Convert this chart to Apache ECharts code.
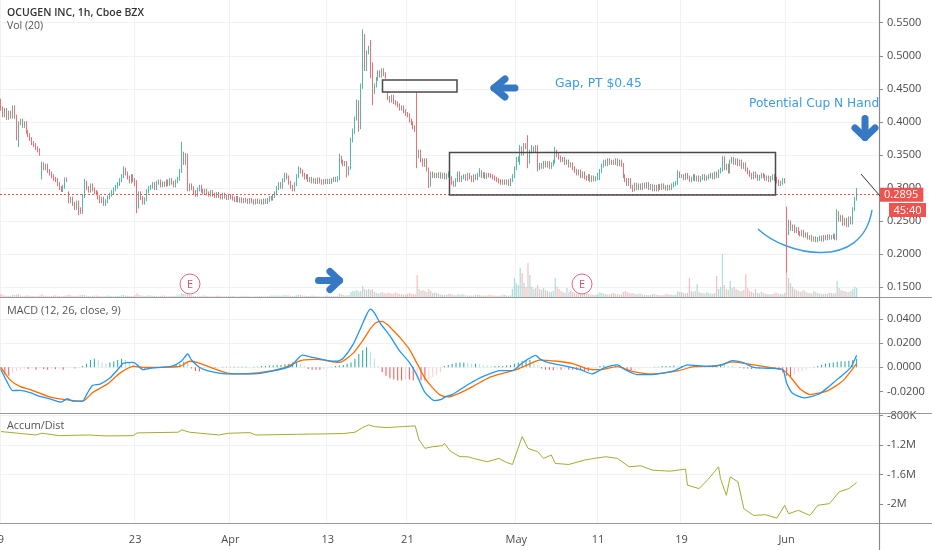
<!DOCTYPE html>
<html><head><meta charset="utf-8">
<script src="https://cdn.jsdelivr.net/npm/echarts@6/dist/echarts.min.js"></script>
<style>html,body{margin:0;padding:0;background:#fff}#c{width:932px;height:550px}</style>
</head><body><div id="c"></div>
<script>
// ---- hourly OHLC (one row per trading day, 7 bars each) ----
const opens = [
.432,.420,.410,.418,.406,.414,.408,
.422,.408,.375,.398,.402,.394,.398,
.385,.380,.374,.368,.365,.360,.357,
.316,.336,.330,.334,.326,.322,.318,
.314,.312,.306,.300,.297,.302,.313,
.292,.280,.284,.276,.270,.278,.268,
.264,.288,.308,.300,.296,.304,.298,
.294,.292,.286,.280,.284,.276,.280,
.286,.290,.294,.298,.302,.306,.312,
.318,.328,.322,.316,.310,.318,.312,
.306,.272,.292,.285,.278,.283,.295,
.300,.302,.306,.300,.308,.310,.304,
.307,.305,.310,.306,.312,.308,.304,
.310,.314,.326,.352,.338,.350,.298,
.304,.300,.294,.290,.298,.302,.296,
.293,.296,.292,.290,.294,.290,.288,
.291,.288,.286,.290,.287,.285,.288,
.286,.284,.282,.285,.281,.283,.280,
.282,.281,.279,.282,.280,.278,.281,
.279,.280,.278,.281,.279,.282,.285,
.284,.288,.292,.300,.306,.302,.312,
.320,.316,.308,.302,.298,.306,.318,
.328,.325,.320,.316,.318,.312,.314,
.310,.312,.309,.313,.310,.308,.311,
.309,.311,.309,.312,.314,.312,.315,
.346,.340,.336,.338,.322,.330,.372,
.385,.405,.430,.392,.455,.530,.480,
.505,.512,.470,.445,.455,.465,.475,
.470,.478,.472,.445,.436,.432,.438,
.430,.428,.425,.420,.422,.416,.412,
.410,.402,.398,.392,.388,.348,.355,
.342,.335,.342,.328,.305,.322,.318,
.320,.318,.321,.317,.320,.316,.319,
.322,.315,.308,.305,.312,.322,.312,
.316,.318,.314,.320,.316,.312,.318,
.315,.320,.324,.318,.321,.317,.320,
.319,.318,.316,.314,.312,.310,.308,
.310,.308,.310,.306,.312,.318,.330,
.342,.345,.360,.352,.365,.362,.340,
.355,.360,.356,.362,.330,.335,.332,
.338,.334,.338,.332,.336,.340,.355,
.350,.346,.342,.344,.338,.340,.334,
.336,.330,.326,.322,.325,.318,.322,
.316,.314,.318,.312,.316,.313,.315,
.320,.326,.334,.340,.336,.342,.338,
.340,.338,.342,.336,.340,.335,.318,
.312,.306,.312,.302,.298,.305,.300,
.304,.300,.305,.302,.306,.300,.303,
.298,.302,.298,.303,.300,.304,.301,
.299,.302,.300,.304,.306,.308,.322,
.318,.318,.315,.320,.316,.312,.314,
.318,.313,.316,.312,.315,.318,.314,
.316,.318,.320,.316,.322,.318,.325,
.328,.345,.330,.334,.325,.340,.344,
.338,.342,.336,.340,.332,.336,.328,
.324,.320,.316,.322,.318,.314,.317,
.320,.318,.314,.316,.312,.315,.318,
.314,.310,.306,.308,.312,.270,.232,
.248,.238,.242,.235,.238,.232,.230,
.234,.228,.230,.225,.226,.222,.224,
.221,.223,.225,.222,.226,.224,.227,
.225,.226,.228,.224,.262,.252,.256,
.246,.252,.244,.254,.248,.268,.284];
const highs = [
.435,.423,.421,.421,.417,.417,.425,
.425,.411,.401,.405,.405,.401,.401,
.388,.383,.377,.371,.368,.363,.360,
.340,.339,.337,.337,.329,.325,.321,
.317,.315,.309,.303,.305,.316,.316,
.295,.287,.287,.279,.281,.281,.271,
.291,.314,.311,.303,.307,.307,.301,
.297,.295,.289,.287,.287,.283,.289,
.293,.297,.301,.305,.309,.315,.321,
.333,.331,.325,.319,.321,.321,.315,
.312,.295,.295,.288,.286,.298,.303,
.305,.309,.309,.311,.313,.313,.310,
.310,.313,.313,.315,.315,.311,.313,
.317,.329,.370,.355,.353,.352,.307,
.307,.303,.297,.301,.305,.305,.299,
.299,.299,.295,.297,.297,.293,.294,
.294,.291,.293,.293,.290,.291,.291,
.289,.287,.288,.288,.286,.286,.285,
.285,.284,.285,.285,.283,.284,.284,
.283,.283,.284,.284,.285,.288,.288,
.291,.295,.303,.309,.309,.315,.323,
.323,.319,.311,.305,.309,.321,.333,
.331,.328,.323,.321,.321,.317,.317,
.315,.315,.316,.316,.313,.314,.314,
.314,.314,.315,.317,.317,.318,.352,
.349,.343,.341,.341,.333,.376,.390,
.408,.434,.433,.458,.540,.533,.508,
.515,.524,.490,.458,.468,.478,.478,
.481,.481,.475,.445,.439,.441,.441,
.433,.431,.428,.425,.425,.419,.415,
.413,.405,.401,.395,.445,.358,.358,
.345,.345,.345,.331,.325,.325,.323,
.323,.324,.324,.323,.323,.322,.325,
.325,.318,.311,.315,.325,.325,.319,
.321,.321,.323,.323,.319,.321,.321,
.323,.330,.327,.324,.324,.323,.323,
.322,.321,.319,.317,.315,.313,.313,
.313,.313,.313,.315,.321,.333,.347,
.348,.365,.363,.368,.368,.380,.358,
.365,.363,.365,.365,.338,.338,.341,
.341,.341,.341,.339,.343,.362,.358,
.353,.349,.347,.347,.343,.343,.339,
.339,.333,.329,.328,.328,.325,.325,
.319,.321,.321,.319,.319,.318,.323,
.329,.337,.343,.343,.345,.345,.343,
.343,.345,.345,.343,.343,.338,.321,
.315,.315,.315,.305,.308,.308,.307,
.307,.308,.308,.309,.309,.306,.306,
.305,.305,.306,.306,.307,.307,.304,
.305,.305,.307,.309,.311,.327,.325,
.321,.321,.323,.323,.319,.317,.321,
.321,.319,.319,.318,.321,.321,.319,
.321,.323,.323,.325,.325,.328,.331,
.348,.348,.337,.337,.343,.347,.347,
.345,.345,.343,.343,.339,.339,.331,
.327,.323,.325,.325,.321,.320,.323,
.323,.321,.319,.319,.318,.321,.321,
.317,.313,.311,.315,.315,.272,.252,
.251,.245,.245,.241,.241,.235,.237,
.237,.233,.233,.229,.229,.227,.227,
.226,.228,.228,.229,.229,.230,.230,
.229,.231,.231,.268,.265,.259,.259,
.255,.255,.257,.257,.271,.287,.300];
const lows = [
.417,.407,.407,.403,.403,.405,.405,
.405,.372,.362,.395,.391,.391,.382,
.377,.371,.365,.362,.357,.354,.349,
.313,.327,.327,.323,.319,.315,.311,
.309,.303,.297,.294,.294,.299,.309,
.277,.277,.273,.267,.267,.259,.261,
.261,.285,.297,.293,.293,.295,.291,
.289,.283,.277,.277,.273,.273,.277,
.283,.287,.291,.295,.299,.303,.309,
.315,.319,.313,.307,.307,.309,.303,
.262,.269,.282,.275,.275,.280,.292,
.297,.299,.297,.297,.305,.301,.301,
.302,.302,.303,.303,.305,.301,.301,
.307,.311,.323,.335,.335,.295,.295,
.297,.291,.287,.287,.295,.293,.290,
.290,.289,.287,.287,.287,.285,.285,
.285,.283,.283,.284,.282,.282,.283,
.281,.279,.279,.278,.278,.277,.277,
.278,.276,.276,.277,.275,.275,.276,
.276,.275,.275,.276,.276,.279,.281,
.281,.285,.289,.297,.299,.299,.309,
.313,.305,.299,.295,.295,.303,.315,
.322,.317,.313,.313,.309,.309,.307,
.307,.306,.306,.307,.305,.305,.306,
.306,.306,.306,.309,.309,.309,.312,
.337,.333,.333,.316,.319,.328,.369,
.382,.402,.385,.389,.450,.477,.477,
.502,.466,.425,.442,.452,.462,.467,
.467,.469,.465,.433,.429,.429,.427,
.425,.422,.417,.417,.413,.409,.407,
.399,.395,.389,.385,.330,.345,.339,
.332,.332,.325,.300,.302,.315,.315,
.315,.315,.314,.314,.313,.313,.316,
.312,.305,.302,.302,.309,.309,.309,
.313,.311,.311,.313,.309,.309,.312,
.312,.317,.315,.315,.314,.314,.316,
.315,.313,.311,.309,.307,.305,.305,
.305,.305,.303,.303,.309,.315,.327,
.339,.335,.349,.349,.359,.330,.337,
.352,.353,.353,.325,.327,.329,.329,
.331,.331,.329,.329,.333,.337,.347,
.343,.339,.339,.335,.335,.331,.331,
.327,.323,.319,.319,.315,.315,.313,
.311,.311,.309,.309,.310,.310,.312,
.312,.323,.331,.333,.333,.335,.335,
.335,.335,.333,.333,.332,.315,.309,
.303,.303,.299,.294,.295,.297,.297,
.297,.297,.299,.299,.297,.297,.295,
.295,.295,.295,.297,.297,.298,.296,
.296,.297,.297,.301,.303,.305,.315,
.315,.312,.312,.313,.309,.309,.311,
.310,.310,.309,.309,.312,.311,.311,
.313,.315,.313,.313,.315,.315,.322,
.325,.327,.327,.322,.322,.337,.335,
.335,.333,.333,.329,.329,.325,.321,
.317,.313,.313,.315,.311,.311,.314,
.315,.311,.311,.309,.309,.312,.311,
.307,.303,.303,.305,.307,.172,.229,
.235,.235,.232,.232,.229,.227,.227,
.225,.225,.222,.222,.219,.219,.218,
.218,.220,.219,.219,.221,.221,.222,
.222,.223,.221,.221,.249,.249,.243,
.243,.241,.241,.245,.245,.265,.281];
const closes = [
.420,.410,.418,.406,.414,.408,.422,
.408,.375,.398,.402,.394,.398,.385,
.380,.374,.368,.365,.360,.357,.352,
.336,.330,.334,.326,.322,.318,.314,
.312,.306,.300,.297,.302,.313,.312,
.280,.284,.276,.270,.278,.268,.264,
.288,.308,.300,.296,.304,.298,.294,
.292,.286,.280,.284,.276,.280,.286,
.290,.294,.298,.302,.306,.312,.318,
.328,.322,.316,.310,.318,.312,.306,
.272,.292,.285,.278,.283,.295,.300,
.302,.306,.300,.308,.310,.304,.307,
.305,.310,.306,.312,.308,.304,.310,
.314,.326,.352,.338,.350,.298,.304,
.300,.294,.290,.298,.302,.296,.293,
.296,.292,.290,.294,.290,.288,.291,
.288,.286,.290,.287,.285,.288,.286,
.284,.282,.285,.281,.283,.280,.282,
.281,.279,.282,.280,.278,.281,.279,
.280,.278,.281,.279,.282,.285,.284,
.288,.292,.300,.306,.302,.312,.320,
.316,.308,.302,.298,.306,.318,.328,
.325,.320,.316,.318,.312,.314,.310,
.312,.309,.313,.310,.308,.311,.309,
.311,.309,.312,.314,.312,.315,.346,
.340,.336,.338,.322,.330,.372,.385,
.405,.430,.392,.455,.530,.480,.505,
.512,.470,.445,.455,.465,.475,.470,
.478,.472,.468,.436,.432,.438,.430,
.428,.425,.420,.422,.416,.412,.410,
.402,.398,.392,.388,.348,.355,.342,
.335,.342,.328,.305,.322,.318,.320,
.318,.321,.317,.320,.316,.319,.322,
.315,.308,.305,.312,.322,.312,.316,
.318,.314,.320,.316,.312,.318,.315,
.320,.324,.318,.321,.317,.320,.319,
.318,.316,.314,.312,.310,.308,.310,
.308,.310,.306,.312,.318,.330,.342,
.345,.360,.352,.365,.362,.340,.355,
.360,.356,.362,.330,.335,.332,.338,
.334,.338,.332,.336,.340,.355,.350,
.346,.342,.344,.338,.340,.334,.336,
.330,.326,.322,.325,.318,.322,.316,
.314,.318,.312,.316,.313,.315,.320,
.326,.334,.340,.336,.342,.338,.340,
.338,.342,.336,.340,.335,.318,.312,
.306,.312,.302,.298,.305,.300,.304,
.300,.305,.302,.306,.300,.303,.298,
.302,.298,.303,.300,.304,.301,.299,
.302,.300,.304,.306,.308,.322,.318,
.318,.315,.320,.316,.312,.314,.318,
.313,.316,.312,.315,.318,.314,.316,
.318,.320,.316,.322,.318,.325,.328,
.345,.330,.334,.325,.340,.344,.338,
.342,.336,.340,.332,.336,.328,.324,
.320,.316,.322,.318,.314,.317,.320,
.318,.314,.316,.312,.315,.318,.314,
.310,.306,.308,.312,.310,.232,.248,
.238,.242,.235,.238,.232,.230,.234,
.228,.230,.225,.226,.222,.224,.221,
.223,.225,.222,.226,.224,.227,.225,
.226,.228,.224,.262,.252,.256,.246,
.252,.244,.254,.248,.268,.284,.2895];
// volume, thousands of shares
const volumes = [
150,90,70,60,50,60,110, 100,120,140,70,60,50,90, 80,60,50,50,40,50,80,
140,80,60,50,40,50,70, 80,60,50,40,50,60,90, 120,70,60,50,60,70,90,
110,90,60,50,40,50,80, 70,60,50,40,40,50,80, 60,50,40,50,50,60,90,
100,70,60,50,40,50,90, 200,100,70,60,50,60,90, 80,60,50,40,40,50,70,
70,50,40,40,50,50,80, 80,90,200,150,120,140,100, 90,60,50,40,40,50,70,
60,50,40,40,40,50,60, 60,40,40,30,40,40,60, 50,40,30,30,40,40,60,
50,40,30,30,30,40,50, 50,40,30,40,40,50,70, 80,60,70,80,60,70,100,
90,70,60,50,60,80,120, 100,70,60,50,50,50,70, 60,50,40,40,40,40,60,
60,50,40,40,40,50,180, 150,100,80,90,100,250,300, 300,350,280,300,550,400,350,
400,350,380,250,200,180,200, 250,200,180,220,200,160,180, 220,180,150,140,130,120,160,
200,160,150,140,1100,400,300, 350,300,250,400,300,200,220, 200,150,120,100,100,110,150,
160,120,100,90,150,110,140, 120,90,80,70,70,80,120, 110,100,80,70,70,70,110,
100,80,70,60,60,70,110, 100,70,60,80,400,950,700, 600,1450,1200,700,500,1700,1100,
500,400,450,600,400,350,450, 350,300,250,250,300,950,500, 400,300,250,200,450,250,300,
250,200,180,160,150,150,200, 180,150,120,110,100,110,160, 250,200,180,150,130,120,180,
200,160,150,130,120,250,300, 250,200,180,200,150,130,180, 160,120,100,100,90,100,150,
150,110,100,90,90,100,160, 140,110,100,100,120,300,250, 250,200,180,200,950,300,250,
300,650,250,200,200,180,250, 200,180,150,200,1050,400,500, 2150,600,400,350,800,450,500,
400,350,300,300,350,1150,450, 300,250,200,400,200,180,250, 200,180,150,150,140,150,220,
200,160,150,150,200,1200,950, 700,500,400,350,300,250,300, 350,250,200,200,180,300,250,
200,180,160,150,150,160,220, 200,180,200,800,450,350,300, 300,250,250,300,400,500,450];
const lastPrice = 0.2895;

// ---- x-axis date ticks (bar index -> label) ----
const tickIdx  = [0, 69, 118, 168, 209, 265, 307, 350, 404];
const tickText = ['9','23','Apr','13','21','May','11','19','Jun'];

// ---- MACD (12, 26, close, 9): [bar index, value] ----
const macdPts = [[0,-0.002],[3,-0.0116],[6,-0.0193],[10,-0.019],[15,-0.021],[20,-0.024],[25,-0.026],[31,-0.0287],[34,-0.026],[37,-0.028],[42,-0.028],[44,-0.0226],[47,-0.015],[51,-0.0139],[56,-0.0088],[60,-0.002],[63,0.0035],[68,0.004],[70,0.002],[73,-0.002],[76,-0.001],[82,0],[88,0.001],[93,0.0055],[96,0.011],[98,0.006],[102,0],[106,-0.0027],[113,-0.005],[119,-0.0055],[130,-0.0055],[140,-0.003],[149,0.001],[155,0.010],[159,0.0087],[168,0.0055],[173,0.005],[176,0.0075],[181,0.0187],[185,0.0325],[188,0.0435],[190,0.048],[192,0.045],[195,0.0366],[200,0.026],[205,0.0135],[210,0.004],[214,-0.007],[218,-0.0207],[223,-0.0275],[226,-0.0268],[229,-0.024],[232,-0.0226],[240,-0.0144],[248,-0.0075],[257,-0.0028],[263,-0.0028],[268,0.0036],[275,0.0099],[277,0.007],[282,0.0036],[291,0.0008],[298,-0.002],[304,-0.0055],[310,-0.0006],[317,0.002],[321,-0.002],[327,-0.006],[335,-0.006],[346,-0.003],[353,0.002],[363,0.0008],[371,0.002],[373,0.0036],[376,0.0055],[382,0.0036],[387,0],[395,-0.0008],[402,-0.002],[404,-0.013],[407,-0.0215],[413,-0.0253],[420,-0.0225],[425,-0.017],[430,-0.010],[431,-0.0089],[437,0],[440,0.0099]];
const signalPts = [[0,0],[5,-0.011],[10,-0.016],[16,-0.019],[25,-0.0245],[34,-0.027],[42,-0.028],[47,-0.021],[55,-0.0135],[61,-0.005],[68,0.0007],[73,0],[82,0],[92,0.0007],[97,0.005],[102,0.0035],[111,-0.002],[119,-0.0055],[133,-0.0045],[145,-0.0007],[155,0.006],[163,0.0065],[174,0.004],[181,0.0115],[186,0.022],[188,0.027],[190,0.032],[193,0.037],[196,0.038],[199,0.035],[202,0.030],[205,0.025],[210,0.015],[214,0.003],[218,-0.009],[222,-0.017],[226,-0.023],[230,-0.0245],[235,-0.022],[243,-0.0155],[251,-0.0085],[258,-0.005],[265,-0.002],[270,0.0015],[277,0.006],[286,0.005],[294,0.003],[301,-0.001],[308,-0.002],[317,0.0005],[325,-0.0035],[335,-0.0055],[348,-0.003],[356,0.0005],[368,0.001],[376,0.0045],[387,0.002],[397,-0.0005],[402,-0.002],[406,-0.008],[411,-0.018],[416,-0.0225],[425,-0.0195],[433,-0.011],[440,0.003]];
// histogram, one value every 2 bars starting at bar 0
const histStep = 2;
const histVals = [
-.002,-.006,-.007,-.005,-.003,-.002,-.001,-.0015,-.001,-.002,
-.001,-.0015,-.002,-.001,-.0015,-.001,-.002,-.001,-.0005,-.001,
-.0005,.001,.003,.006,.007,.006,.004,.003,.004,.005,
.006,.007,.006,.004,.003,.001,-.001,-.0015,-.001,-.0005,
-.0005,0,.0005,.0005,.001,.002,.003,.0045,.004,-.001,
-.003,-.0035,-.002,-.001,-.0005,-.0005,0,.0005,.0005,.0005,
.0005,.0005,.0005,.0005,0,.0005,.0005,.001,.001,.0015,
.0015,.002,.002,.0025,.003,.004,.004,.003,.001,-.0015,
-.002,-.002,-.002,-.0015,-.001,-.0005,.001,.0015,.002,.003,
.004,.007,.011,.014,.0165,.013,.007,.001,-.004,-.007,
-.009,-.010,-.011,-.011,-.010,-.010,-.011,-.010,-.011,-.011,
-.010,-.008,-.006,-.004,.001,.002,.003,.0035,.004,.004,
.0035,.003,.003,.0025,.002,.0015,.001,.001,.001,.001,
.0015,.002,.003,.004,.005,.006,.006,.005,.002,-.001,
-.002,-.002,-.0025,-.002,-.002,-.0015,-.002,-.002,-.002,-.0025,
-.003,-.0035,-.003,-.001,.001,.0015,.001,.0005,.001,0,
-.001,-.002,-.0025,-.002,-.0015,-.001,-.0005,0,.0005,.0005,
.001,.001,.001,.0015,.001,.001,.0005,.0005,.0005,.0005,
.001,.001,.0015,.0015,.002,.0025,.002,.0015,.001,.0005,
-.0005,-.001,-.001,-.0015,-.001,-.001,-.0005,-.001,-.001,-.0015,
-.002,-.004,-.007,-.008,-.006,-.004,-.003,-.002,-.001,.0005,
.001,.002,.003,.0035,.004,.0045,.005,.005,.0055,.006,
.007];

// ---- Accumulation / Distribution (millions), [bar index, value] ----
const adlPts = [[0,-1.018],[9,-1.041],[18,-1.064],[21,-1.040],[30,-1.073],[45,-1.064],[54,-1.077],[68,-1.073],[70,-1.036],[91,-1.027],[93,-0.995],[97,-1.027],[112,-1.064],[117,-1.041],[128,-1.032],[131,-1.064],[152,-1.055],[176,-1.045],[182,-1.027],[186,-0.964],[189,-0.927],[192,-0.950],[198,-0.964],[207,-0.950],[213,-0.941],[215,-1.132],[218,-1.245],[222,-1.223],[227,-1.209],[228,-1.177],[231,-1.282],[236,-1.359],[240,-1.359],[243,-1.382],[250,-1.427],[256,-1.382],[260,-1.436],[263,-1.464],[268,-1.086],[271,-1.245],[276,-1.291],[279,-1.382],[283,-1.336],[285,-1.450],[292,-1.464],[300,-1.405],[305,-1.382],[311,-1.359],[317,-1.382],[323,-1.495],[329,-1.482],[335,-1.541],[344,-1.555],[352,-1.527],[353,-1.745],[359,-1.791],[364,-1.655],[369,-1.495],[370,-1.655],[373,-1.882],[375,-1.632],[379,-1.700],[382,-2.064],[387,-2.155],[393,-2.145],[399,-2.191],[403,-2.018],[405,-2.132],[410,-2.086],[416,-2.155],[420,-2.018],[426,-1.995],[431,-1.836],[436,-1.791],[440,-1.709]];

// ---------------- chart ----------------
const TOTAL_SLOTS = 452;               // bars plus empty right margin
const cats = [];
for (let i = 0; i < TOTAL_SLOTS; i++) cats.push(i);
const tickMap = {};
tickIdx.forEach((k, j) => { tickMap[k] = tickText[j]; });

const UP = '#55b8a4', DOWN = '#ef7073';
const GRID = '#eef1f5', TXT = '#4a4a4a', FONT = 'Open Sans';
const candleData = closes.map((c, i) => [opens[i], c, lows[i], highs[i]]);
const volData = volumes.map((v, i) => ({
  value: v,
  itemStyle: { color: closes[i] >= opens[i] ? 'rgba(38,166,154,0.38)' : 'rgba(239,83,80,0.38)' }
}));
const histData = histVals.map((v, k) => {
  const prev = k > 0 ? histVals[k - 1] : 0;
  let col;
  if (v >= 0) col = v >= prev ? '#26a69a' : '#b2dfdb';
  else col = v <= prev ? '#ef5350' : '#ffcdd2';
  return { value: [k * histStep, v], itemStyle: { color: col } };
});

const hiddenX = gi => ({ type: 'category', gridIndex: gi, data: cats, boundaryGap: true, show: false });
const rightAxisBase = {
  position: 'right',
  axisLine: { show: false },
  axisTick: { show: true, length: 4, lineStyle: { color: '#8a8a8a' } },
  axisLabel: { color: TXT, fontSize: 11, margin: 8, fontFamily: FONT }
};
const T = 'rgba(0,0,0,0)';

const chart = echarts.init(document.getElementById('c'), null, { renderer: 'canvas', width: 932, height: 550 });
const option = {
  animation: false,
  backgroundColor: '#ffffff',
  textStyle: { fontFamily: FONT },
  grid: [
    { left: 0, right: 53, top: -10.4, height: 297.7, containLabel: false, outerBoundsMode: 'none' },
    { left: 0, right: 53, top: 237, height: 60, containLabel: false, outerBoundsMode: 'none' },
    { left: 0, right: 53, top: 294.7, height: 121, containLabel: false, outerBoundsMode: 'none' },
    { left: 0, right: 53, top: 415.5, height: 118, containLabel: false, outerBoundsMode: 'none' },
    { left: 0, right: 53, top: 0, height: 523, containLabel: false, outerBoundsMode: 'none' }
  ],
  xAxis: [
    hiddenX(0), hiddenX(1), hiddenX(2), hiddenX(3),
    {
      type: 'category', gridIndex: 4, data: cats, boundaryGap: true, position: 'bottom',
      axisLine: { show: false }, axisTick: { show: false },
      axisLabel: {
        interval: (i) => tickMap.hasOwnProperty(i),
        formatter: (v) => tickMap[v] || '',
        color: TXT, fontSize: 11, margin: 11, fontFamily: FONT
      },
      splitLine: { show: true, interval: (i) => tickMap.hasOwnProperty(i), lineStyle: { color: GRID, width: 1 } }
    }
  ],
  yAxis: [
    Object.assign({}, rightAxisBase, {
      type: 'value', gridIndex: 0, min: 0.15, max: 0.60, interval: 0.05,
      axisLabel: Object.assign({}, rightAxisBase.axisLabel, { formatter: v => v.toFixed(4) }),
      splitLine: { show: true, lineStyle: { color: GRID } }
    }),
    { type: 'value', gridIndex: 1, min: 0, max: 3000, show: false },
    Object.assign({}, rightAxisBase, {
      type: 'value', gridIndex: 2, min: -0.04, max: 0.06, interval: 0.02,
      axisLabel: Object.assign({}, rightAxisBase.axisLabel, {
        showMinLabel: false, showMaxLabel: false,
        formatter: v => (Math.abs(v) < 1e-9 ? 0 : v).toFixed(4)
      }),
      axisTick: { show: true, length: 4, lineStyle: { color: '#8a8a8a' }, customValues: [-0.02, 0, 0.02, 0.04] },
      splitLine: { show: true, lineStyle: { color: [T, GRID, GRID, GRID, GRID, T] } }
    }),
    Object.assign({}, rightAxisBase, {
      type: 'value', gridIndex: 3, min: -2.4, max: -0.8, interval: 0.4,
      axisLabel: Object.assign({}, rightAxisBase.axisLabel, {
        showMinLabel: false,
        formatter: v => { const r = Math.round(v * 10) / 10; return r > -1 ? Math.round(r * 1000) + 'K' : r + 'M'; }
      }),
      axisTick: { show: true, length: 4, lineStyle: { color: '#8a8a8a' }, customValues: [-2.0, -1.6, -1.2, -0.8] },
      splitLine: { show: true, lineStyle: { color: [T, GRID, GRID, GRID, T] } }
    }),
    { type: 'value', gridIndex: 4, min: 0, max: 1, show: false }
  ],
  series: [
    {
      type: 'bar', name: 'Vol', xAxisIndex: 1, yAxisIndex: 1, data: volData,
      barWidth: 1.2, z: 2, emphasis: { disabled: true }
    },
    {
      type: 'candlestick', name: 'OCGN', xAxisIndex: 0, yAxisIndex: 0, data: candleData,
      barWidth: 0.4, z: 3,
      itemStyle: { color: UP, color0: DOWN, borderColor: UP, borderColor0: DOWN, borderWidth: 1 },
      emphasis: { disabled: true },
      markLine: {
        silent: true, symbol: ['none', 'none'], animation: false,
        data: [{ yAxis: lastPrice }],
        lineStyle: { color: '#ef5350', type: [2, 2], width: 1 },
        label: {
          show: true, position: 'end', distance: 0,
          formatter: () => lastPrice.toFixed(4),
          color: '#ffffff', backgroundColor: '#ef5350', padding: [2, 5, 1, 5],
          fontSize: 11, fontFamily: FONT
        },
        emphasis: { disabled: true }
      }
    },
    {
      type: 'bar', name: 'Histogram', xAxisIndex: 2, yAxisIndex: 2, data: histData,
      barWidth: 1, z: 2, emphasis: { disabled: true }
    },
    {
      type: 'line', name: 'MACD', xAxisIndex: 2, yAxisIndex: 2, data: macdPts,
      showSymbol: false, smooth: 0.2, z: 4,
      lineStyle: { color: '#2196f3', width: 1.3 }, itemStyle: { color: '#2196f3' },
      emphasis: { disabled: true }
    },
    {
      type: 'line', name: 'Signal', xAxisIndex: 2, yAxisIndex: 2, data: signalPts,
      showSymbol: false, smooth: 0.2, z: 3,
      lineStyle: { color: '#ff6d00', width: 1.3 }, itemStyle: { color: '#ff6d00' },
      emphasis: { disabled: true }
    },
    {
      type: 'line', name: 'Accum/Dist', xAxisIndex: 3, yAxisIndex: 3, data: adlPts,
      showSymbol: false, z: 3,
      lineStyle: { color: '#a3ad30', width: 1 }, itemStyle: { color: '#a3ad30' },
      emphasis: { disabled: true }
    }
  ],
  graphic: {
    elements: [
      // pane frames
      { type: 'line', z: 50, shape: { x1: 0, y1: 297.5, x2: 932, y2: 297.5 }, style: { stroke: '#9a9a9a', lineWidth: 1 } },
      { type: 'line', z: 50, shape: { x1: 0, y1: 413.5, x2: 932, y2: 413.5 }, style: { stroke: '#9a9a9a', lineWidth: 1 } },
      { type: 'line', z: 50, shape: { x1: 0, y1: 523.5, x2: 932, y2: 523.5 }, style: { stroke: '#9a9a9a', lineWidth: 1 } },
      { type: 'line', z: 50, shape: { x1: 879.5, y1: 0, x2: 879.5, y2: 550 }, style: { stroke: '#8a8a8a', lineWidth: 1.2 } },
      // legends / titles
      { type: 'text', z: 60, x: 7, y: 13, style: { text: 'OCUGEN INC, 1h, Cboe BZX', font: '600 10.5px "Open Sans"', fill: '#333333', textVerticalAlign: 'middle', verticalAlign: 'middle' } },
      { type: 'text', z: 60, x: 7, y: 26, style: { text: 'Vol (20)', font: '10.5px "Open Sans"', fill: '#555555', textVerticalAlign: 'middle', verticalAlign: 'middle' } },
      { type: 'text', z: 60, x: 7, y: 311, style: { text: 'MACD (12, 26, close, 9)', font: '10.8px "Open Sans"', fill: '#555555', textVerticalAlign: 'middle', verticalAlign: 'middle' } },
      { type: 'text', z: 60, x: 7, y: 426, style: { text: 'Accum/Dist', font: '10.8px "Open Sans"', fill: '#555555', textVerticalAlign: 'middle', verticalAlign: 'middle' } },
      // earnings markers
      { type: 'circle', z: 60, shape: { cx: 190, cy: 284, r: 10 }, style: { fill: '#ffffff', stroke: '#e8687c', lineWidth: 1 } },
      { type: 'text', z: 61, x: 190, y: 284.5, style: { text: 'E', font: '11px "Open Sans"', fill: '#e05067', textAlign: 'center', align: 'center', textVerticalAlign: 'middle', verticalAlign: 'middle' } },
      { type: 'circle', z: 60, shape: { cx: 582, cy: 284, r: 10 }, style: { fill: '#ffffff', stroke: '#e8687c', lineWidth: 1 } },
      { type: 'text', z: 61, x: 582, y: 284.5, style: { text: 'E', font: '11px "Open Sans"', fill: '#e05067', textAlign: 'center', align: 'center', textVerticalAlign: 'middle', verticalAlign: 'middle' } },
      // drawings: gap box and range box
      { type: 'rect', z: 70, shape: { x: 382.5, y: 80, width: 74.5, height: 12 }, style: { fill: 'rgba(255,255,255,0)', stroke: '#4a4a4a', lineWidth: 1.5 } },
      { type: 'rect', z: 70, shape: { x: 449.5, y: 152.5, width: 326, height: 42.5 }, style: { fill: 'rgba(255,255,255,0)', stroke: '#4a4a4a', lineWidth: 1.5 } },
      // arrows
      { type: 'polyline', z: 70, shape: { points: [[505, 79], [494, 88], [505, 97]] }, style: { stroke: '#3678c4', lineWidth: 7, lineCap: 'round', lineJoin: 'round', fill: null } },
      { type: 'polyline', z: 70, shape: { points: [[494, 88], [515, 88]] }, style: { stroke: '#3678c4', lineWidth: 7, lineCap: 'round', fill: null } },
      { type: 'polyline', z: 70, shape: { points: [[330, 271.5], [339.5, 280.5], [330, 289.5]] }, style: { stroke: '#3678c4', lineWidth: 7, lineCap: 'round', lineJoin: 'round', fill: null } },
      { type: 'polyline', z: 70, shape: { points: [[318.5, 280.5], [339.5, 280.5]] }, style: { stroke: '#3678c4', lineWidth: 7, lineCap: 'round', fill: null } },
      { type: 'polyline', z: 70, shape: { points: [[855, 128], [865, 137.5], [875, 128]] }, style: { stroke: '#3678c4', lineWidth: 7, lineCap: 'round', lineJoin: 'round', fill: null } },
      { type: 'polyline', z: 70, shape: { points: [[865, 118.5], [865, 137.5]] }, style: { stroke: '#3678c4', lineWidth: 7, lineCap: 'round', fill: null } },
      // notes
      { type: 'text', z: 70, x: 555, y: 84, style: { text: 'Gap, PT $0.45', font: '12.3px "DejaVu Sans"', fill: '#3d9be6', textVerticalAlign: 'middle', verticalAlign: 'middle' } },
      { type: 'text', z: 70, x: 749, y: 103.5, style: { text: 'Potential Cup N Hand', font: '12.2px "DejaVu Sans"', fill: '#3d9be6', textVerticalAlign: 'middle', verticalAlign: 'middle' } },
      // trend line and cup
      { type: 'line', z: 70, shape: { x1: 861, y1: 174, x2: 880, y2: 196 }, style: { stroke: '#333333', lineWidth: 1 } },
      { type: 'bezierCurve', z: 70, shape: { x1: 758, y1: 229, cpx1: 785, cpy1: 255, cpx2: 862, cpy2: 272, x2: 872, y2: 210 }, style: { stroke: '#3d9be6', lineWidth: 1.5, fill: null } },
      // countdown tag
      { type: 'rect', z: 80, shape: { x: 889, y: 203, width: 37, height: 14 }, style: { fill: '#ef5350' } },
      { type: 'text', z: 81, x: 907.5, y: 210.5, style: { text: '45:40', font: '11px "Open Sans"', fill: '#ffffff', textAlign: 'center', align: 'center', textVerticalAlign: 'middle', verticalAlign: 'middle' } }
    ]
  }
};
chart.setOption(option);
</script>
</body></html>
